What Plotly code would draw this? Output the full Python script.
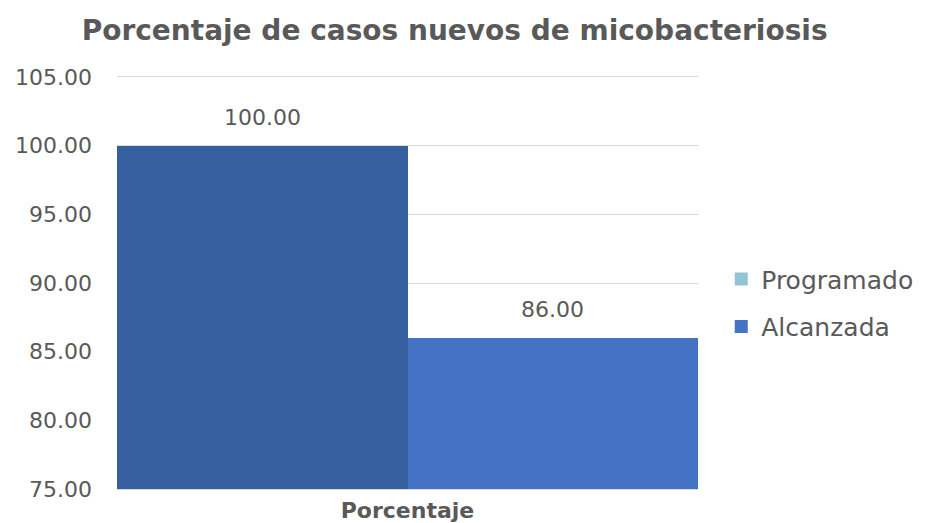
import plotly.graph_objects as go

categories = ["Porcentaje"]
programado = [100.00]
alcanzada = [86.00]
series_names = ["Programado", "Alcanzada"]

title = "Porcentaje de casos nuevos de micobacteriosis"
font_family = "'DejaVu Sans', sans-serif"
grey = "#595959"
bar_colors = ["#365F9F", "#4472C4"]
legend_colors = ["#92C4D5", "#4472C4"]

fig = go.Figure()

# bars (colours as drawn in the chart)
for name, vals, col in zip(series_names, [programado, alcanzada], bar_colors):
    fig.add_trace(go.Bar(
        x=categories, y=vals, name=name,
        marker=dict(color=col, line=dict(width=0)),
        showlegend=False, hoverinfo="y",
    ))

# legend entries (swatches as drawn in the legend)
for i, (name, col) in enumerate(zip(series_names, legend_colors)):
    fig.add_trace(go.Scatter(
        x=[None], y=[None], mode="markers", name=name, legendgroup=f"g{i}",
        marker=dict(symbol="square", size=13, color=col),
    ))

# data labels above the bars
for vals, shift in zip([programado, alcanzada], [-145, 145]):
    for c, v in zip(categories, vals):
        fig.add_annotation(
            x=c, y=v, text=f"{v:.2f}", showarrow=False,
            xshift=shift, yshift=28, yanchor="middle",
            font=dict(size=22, color=grey, family=font_family),
        )

# page body adds an 8px margin, so the figure is 8px smaller than the window
fig.update_layout(
    width=919, height=515,
    paper_bgcolor="white", plot_bgcolor="white",
    font=dict(family=font_family, color=grey, size=22),
    title=dict(text=f"<b>{title}</b>", x=0.486, xref="container", xanchor="center",
               y=0.957, yref="container", yanchor="middle",
               font=dict(size=28, color=grey, family=font_family)),
    barmode="group", bargap=0, bargroupgap=0,
    margin=dict(l=109, r=229, t=69, b=34, autoexpand=False),
    legend=dict(x=1.040, xanchor="left", y=0.452, yanchor="middle",
                font=dict(size=25, color=grey), itemwidth=30,
                tracegroupgap=12, bgcolor="rgba(0,0,0,0)"),
    xaxis=dict(showgrid=False, showline=True, mirror=True, linecolor="#D9D9D9",
               linewidth=1.3, ticks="", automargin=False, ticklabelstandoff=1,
               tickfont=dict(size=22, color=grey, weight="bold")),
    yaxis=dict(range=[75, 105], dtick=5, tickformat=".2f",
               showgrid=True, gridcolor="#D9D9D9", gridwidth=1.3,
               zeroline=False, showline=False, ticks="", automargin=False,
               ticklabelstandoff=24,
               tickfont=dict(size=22, color=grey)),
)

fig.write_html("out.html")
